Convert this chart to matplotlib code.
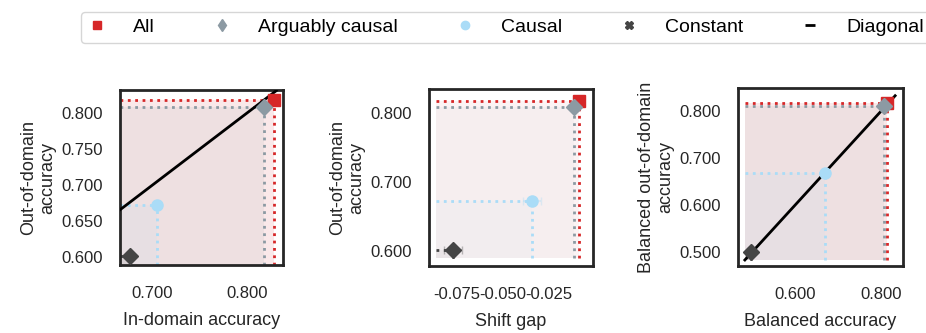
import numpy as np
import matplotlib
matplotlib.use("Agg")
import matplotlib.pyplot as plt
from matplotlib.lines import Line2D

plt.rcParams['font.family'] = ['Liberation Sans', 'DejaVu Sans']
plt.rcParams['axes.unicode_minus'] = False

# series
names = ['All', 'Arguably causal', 'Causal', 'Constant']
colors = ['#d62728', '#8c9aa3', '#aadcf7', '#454545']
markers = ['s', 'D', 'o', 'D']

# panel 1: in-domain vs out-of-domain accuracy
id_acc = [0.829, 0.818, 0.705, 0.677]
ood_acc = [0.818, 0.809, 0.673, 0.602]
id_err = [0.002, 0.002, 0.002, 0.002]
ood_err = [0.002, 0.003, 0.002, 0.003]

# panel 2: shift gap vs out-of-domain accuracy
gap = [-0.0087, -0.0112, -0.034, -0.077]
gap_err = [0.002, 0.002, 0.005, 0.005]

# panel 3: balanced accuracies
bal_acc = [0.813, 0.806, 0.670, 0.497]
bal_ood = [0.817, 0.811, 0.668, 0.500]
bal_err = [0.003, 0.003, 0.003, 0.004]

fig = plt.figure(figsize=(9.26, 3.33), dpi=100)

def panel(rect, xs, ys, xe, ye, x0, y0, xlim, ylim, xlabel, ylabel, xticks, yticks, diag=None, shade=0.1):
    ax = fig.add_axes(rect)
    for x, y, c in zip(xs, ys, colors):
        ax.fill_between([x0, x], y0, y, color=c, alpha=shade, lw=0)
        ax.plot([x0, x], [y, y], ls=':', color=c, lw=2)
        ax.plot([x, x], [y0, y], ls=':', color=c, lw=2)
    if diag is not None:
        ax.plot(diag, diag, color='black', lw=2, zorder=3)
    for x, y, ex, ey, c, m in zip(xs, ys, xe, ye, colors, markers):
        ax.errorbar(x, y, xerr=ex, yerr=ey, color=c, alpha=0.35, capsize=3, lw=1.5, zorder=4)
        ax.plot(x, y, marker=m, color=c, ms=8, ls='none', zorder=5)
    ax.set_xlim(xlim)
    ax.set_ylim(ylim)
    ax.set_xticks(xticks)
    ax.set_yticks(yticks)
    ax.xaxis.set_major_formatter('{x:.3f}')
    ax.yaxis.set_major_formatter('{x:.3f}')
    ax.tick_params(length=0, labelsize=12, colors='#262626')
    ax.tick_params(axis='x', pad=15)
    ax.tick_params(axis='y', pad=12)
    ax.set_xlabel(xlabel, fontsize=13, color='#262626', labelpad=8)
    ax.set_ylabel(ylabel, fontsize=13, color='#262626', labelpad=4)
    for s in ax.spines.values():
        s.set_linewidth(2)
        s.set_color('#262626')
    return ax

panel([0.1296, 0.203, 0.176, 0.527], id_acc, ood_acc, id_err, ood_err,
      0.666, 0.589, (0.666, 0.838), (0.589, 0.832),
      'In-domain accuracy', 'Out-of-domain\naccuracy',
      [0.7, 0.8], [0.6, 0.65, 0.7, 0.75, 0.8], diag=[0.666, 0.831])

panel([0.4633, 0.201, 0.177, 0.531], gap, ood_acc, gap_err, ood_err,
      -0.086, 0.589, (-0.090, -0.001), (0.578, 0.835),
      'Shift gap', 'Out-of-domain\naccuracy',
      [-0.075, -0.05, -0.025], [0.6, 0.7, 0.8], shade=0.05)

panel([0.797, 0.201, 0.178, 0.534], bal_acc, bal_ood, bal_err, bal_err,
      0.482, 0.481, (0.466, 0.851), (0.469, 0.849),
      'Balanced accuracy', 'Balanced out-of-domain\naccuracy',
      [0.6, 0.8], [0.5, 0.6, 0.7, 0.8], diag=[0.482, 0.833])

handles = [Line2D([], [], marker=m, color=c, ls='none', ms=6) for m, c in zip(['s', 'd', 'o', 'X'], colors)]
handles.append(Line2D([], [], marker='_', color='black', ls='none', ms=7, mew=2))
fig.legend(handles, names + ['Diagonal'], loc='upper left', bbox_to_anchor=(71 / 926, 1 - 2 / 333),
           ncol=5, fontsize=14, handlelength=1.0, handletextpad=1.35, columnspacing=2.95,
           frameon=True, edgecolor='#cccccc', borderpad=0.35)

fig.savefig('out.png', dpi=100)
